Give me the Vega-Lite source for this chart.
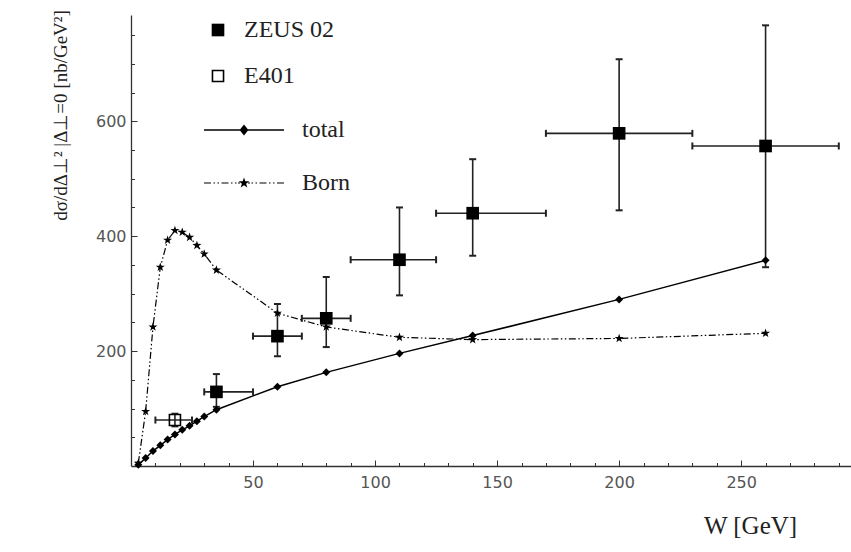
{
  "$schema": "https://vega.github.io/schema/vega-lite/v6.json",
  "width": 720,
  "height": 451,
  "autosize": {"type": "none"},
  "padding": {"left": 131, "top": 15, "right": 0, "bottom": 86},
  "background": "white",
  "config": {"view": {"stroke": null}, "axis": {"grid": false, "labelOverlap": false, "labelFlush": false}},
  "datasets": {
    "curves": [
      {"series": "total", "W": 3, "sigma": 2},
      {"series": "total", "W": 6, "sigma": 14},
      {"series": "total", "W": 9, "sigma": 26},
      {"series": "total", "W": 12, "sigma": 36},
      {"series": "total", "W": 15, "sigma": 46},
      {"series": "total", "W": 18, "sigma": 55},
      {"series": "total", "W": 21, "sigma": 63},
      {"series": "total", "W": 24, "sigma": 70},
      {"series": "total", "W": 27, "sigma": 78},
      {"series": "total", "W": 30, "sigma": 86},
      {"series": "total", "W": 35, "sigma": 98},
      {"series": "total", "W": 60, "sigma": 138},
      {"series": "total", "W": 80, "sigma": 163},
      {"series": "total", "W": 110, "sigma": 196},
      {"series": "total", "W": 140, "sigma": 227},
      {"series": "total", "W": 200, "sigma": 290},
      {"series": "total", "W": 260, "sigma": 358},
      {"series": "Born", "W": 3, "sigma": 5},
      {"series": "Born", "W": 6, "sigma": 95},
      {"series": "Born", "W": 9, "sigma": 242},
      {"series": "Born", "W": 12, "sigma": 346},
      {"series": "Born", "W": 15, "sigma": 393},
      {"series": "Born", "W": 18, "sigma": 410},
      {"series": "Born", "W": 21, "sigma": 407},
      {"series": "Born", "W": 24, "sigma": 398},
      {"series": "Born", "W": 27, "sigma": 384},
      {"series": "Born", "W": 30, "sigma": 369},
      {"series": "Born", "W": 35, "sigma": 341},
      {"series": "Born", "W": 60, "sigma": 266},
      {"series": "Born", "W": 80, "sigma": 242},
      {"series": "Born", "W": 110, "sigma": 224},
      {"series": "Born", "W": 140, "sigma": 220},
      {"series": "Born", "W": 200, "sigma": 222},
      {"series": "Born", "W": 260, "sigma": 231}
    ],
    "exp": [
      {"series": "ZEUS 02", "W": 35, "sigma": 129, "xlo": 30, "xhi": 50, "ylo": 103, "yhi": 160},
      {"series": "ZEUS 02", "W": 60, "sigma": 226, "xlo": 50, "xhi": 70, "ylo": 191, "yhi": 282},
      {"series": "ZEUS 02", "W": 80, "sigma": 257, "xlo": 70, "xhi": 90, "ylo": 207, "yhi": 329},
      {"series": "ZEUS 02", "W": 110, "sigma": 359, "xlo": 90, "xhi": 125, "ylo": 297, "yhi": 450},
      {"series": "ZEUS 02", "W": 140, "sigma": 440, "xlo": 125, "xhi": 170, "ylo": 366, "yhi": 534},
      {"series": "ZEUS 02", "W": 200, "sigma": 579, "xlo": 170, "xhi": 230, "ylo": 445, "yhi": 708},
      {"series": "ZEUS 02", "W": 260, "sigma": 557, "xlo": 230, "xhi": 290, "ylo": 346, "yhi": 767},
      {"series": "E401", "W": 18, "sigma": 80, "xlo": 10, "xhi": 25, "ylo": 69, "yhi": 91}
    ]
  },
  "layer": [
    {
      "data": {"name": "exp"},
      "mark": {"type": "rule", "color": "#222", "strokeWidth": 1.6},
      "encoding": {
        "x": {
          "field": "xlo", "type": "quantitative",
          "scale": {"domain": [0, 295], "nice": false, "zero": false},
          "axis": {
            "orient": "bottom",
            "title": "W [GeV]",
            "values": [50, 100, 150, 200, 250],
            "tickSize": -6,
            "labelPadding": 14,
            "labelOverlap": false,
            "labelFont": "DejaVu Sans", "labelFontSize": 16, "labelColor": "#555",
            "domainColor": "#333", "domainWidth": 1.3, "tickColor": "#333", "tickWidth": 1,
            "titleFont": "Liberation Serif", "titleFontSize": 25, "titleFontWeight": "normal", "titleColor": "#222",
            "titleX": 619, "titleY": 59, "titleAlign": "center", "titleBaseline": "middle"
          }
        },
        "x2": {"field": "xhi"},
        "y": {
          "field": "sigma", "type": "quantitative",
          "scale": {"domain": [0, 785], "nice": false, "zero": false},
          "axis": {
            "orient": "left",
            "title": "dσ/dΔ⊥² |Δ⊥=0  [nb/GeV²]",
            "values": [200, 400, 600],
            "tickSize": -6,
            "labelPadding": 11,
            "labelOverlap": false,
            "labelFont": "DejaVu Sans", "labelFontSize": 16, "labelColor": "#555",
            "domainColor": "#333", "domainWidth": 1.3, "tickColor": "#333", "tickWidth": 1,
            "titleFont": "Liberation Serif", "titleFontSize": 19, "titleFontWeight": "normal", "titleColor": "#222",
            "titleX": -71, "titleY": 100, "titleAngle": 270, "titleAlign": "center", "titleBaseline": "middle"
          }
        }
      }
    },
    {
      "data": {"name": "exp"},
      "mark": {"type": "rule", "color": "#222", "strokeWidth": 1.6},
      "encoding": {
        "x": {
          "field": "W", "type": "quantitative",
          "axis": {
            "orient": "bottom",
            "title": null, "labels": false, "domain": false,
            "values": [10,20,30,40,60,70,80,90,110,120,130,140,160,170,180,190,210,220,230,240,260,270,280,290],
            "tickSize": -3.5, "tickColor": "#333", "tickWidth": 1
          }
        },
        "y": {
          "field": "ylo", "type": "quantitative",
          "axis": {
            "orient": "left",
            "title": null, "labels": false, "domain": false,
            "values": [50,100,150,250,300,350,450,500,550,650,700,750],
            "tickSize": -3.5, "tickColor": "#333", "tickWidth": 1
          }
        },
        "y2": {"field": "yhi"}
      }
    },
    {
      "data": {"name": "exp"},
      "transform": [{"fold": ["xlo", "xhi"], "as": ["end", "xc"]}],
      "mark": {"type": "point", "shape": "M0,-1V1", "filled": false, "color": "#222", "strokeWidth": 2, "size": 49, "opacity": 1},
      "encoding": {
        "x": {"field": "xc", "type": "quantitative", "axis": null},
        "y": {"field": "sigma", "type": "quantitative", "axis": null}
      }
    },
    {
      "data": {"name": "exp"},
      "transform": [{"fold": ["ylo", "yhi"], "as": ["end", "yc"]}],
      "mark": {"type": "point", "shape": "M-1,0H1", "filled": false, "color": "#222", "strokeWidth": 2, "size": 49, "opacity": 1},
      "encoding": {
        "x": {"field": "W", "type": "quantitative", "axis": null},
        "y": {"field": "yc", "type": "quantitative", "axis": null}
      }
    },
    {
      "data": {"name": "curves"},
      "transform": [{"filter": "datum.series === 'total'"}],
      "mark": {"type": "line", "color": "black", "strokeWidth": 1.5},
      "encoding": {
        "x": {"field": "W", "type": "quantitative", "axis": null},
        "y": {"field": "sigma", "type": "quantitative", "axis": null}
      }
    },
    {
      "data": {"name": "curves"},
      "transform": [{"filter": "datum.series === 'Born'"}],
      "mark": {"type": "line", "color": "black", "strokeWidth": 1.2, "strokeDash": [7, 2.5, 1.5, 2.5, 1.5, 2.5]},
      "encoding": {
        "x": {"field": "W", "type": "quantitative", "axis": null},
        "y": {"field": "sigma", "type": "quantitative", "axis": null}
      }
    },
    {
      "data": {"name": "curves"},
      "transform": [{"filter": "datum.series === 'total'"}],
      "mark": {"type": "point", "shape": "diamond", "filled": true, "color": "black", "size": 64, "opacity": 1},
      "encoding": {
        "x": {"field": "W", "type": "quantitative", "axis": null},
        "y": {"field": "sigma", "type": "quantitative", "axis": null}
      }
    },
    {
      "data": {"name": "curves"},
      "transform": [{"filter": "datum.series === 'Born'"}],
      "mark": {"type": "point", "shape": "M0,-1L0.235,-0.324L0.951,-0.309L0.38,0.124L0.588,0.809L0,0.4L-0.588,0.809L-0.38,0.124L-0.951,-0.309L-0.235,-0.324Z", "filled": true, "color": "black", "size": 90, "opacity": 1},
      "encoding": {
        "x": {"field": "W", "type": "quantitative", "axis": null},
        "y": {"field": "sigma", "type": "quantitative", "axis": null}
      }
    },
    {
      "data": {"name": "exp"},
      "mark": {"type": "point", "filled": true, "color": "black", "size": 160, "opacity": 1},
      "encoding": {
        "x": {"field": "W", "type": "quantitative", "axis": null},
        "y": {"field": "sigma", "type": "quantitative", "axis": null},
        "shape": {
          "field": "series", "type": "nominal",
          "scale": {"domain": ["ZEUS 02", "E401"], "range": ["square", "M-1,-1H1V1H-1ZM-0.75,-0.75V0.75H0.75V-0.75Z"]},
          "legend": {
            "orient": "none", "legendX": 75, "legendY": 3, "title": null, "padding": 0,
            "symbolSize": 160, "symbolOpacity": 1, "symbolFillColor": "black",
            "labelFont": "Liberation Serif", "labelFontSize": 24, "labelColor": "#222", "labelOffset": 14,
            "rowPadding": 22
          }
        }
      }
    },
    {
      "data": {"name": "curves"},
      "mark": {"type": "point", "filled": true, "color": "black", "opacity": 0},
      "encoding": {
        "x": {"field": "W", "type": "quantitative", "axis": null},
        "y": {"field": "sigma", "type": "quantitative", "axis": null},
        "shape": {
          "field": "series", "type": "nominal",
          "scale": {
            "domain": ["total", "Born"],
            "range": [
              "M-1,-0.017H1V0.017H-1ZM0,-0.14L0.11,0L0,0.14L-0.11,0Z",
              "M-1,-0.015H-0.825V0.015H-1ZM-0.7625,-0.015H-0.725V0.015H-0.7625ZM-0.6625,-0.015H-0.625V0.015H-0.6625ZM-0.5625,-0.015H-0.3875V0.015H-0.5625ZM-0.325,-0.015H-0.2875V0.015H-0.325ZM-0.225,-0.015H-0.1875V0.015H-0.225ZM0.1875,-0.015H0.225V0.015H0.1875ZM0.2875,-0.015H0.325V0.015H0.2875ZM0.3875,-0.015H0.5625V0.015H0.3875ZM0.625,-0.015H0.6625V0.015H0.625ZM0.725,-0.015H0.7625V0.015H0.725ZM0.825,-0.015H1V0.015H0.825ZM-0.15,-0.015H-0.1V0.015H-0.15ZM0.1,-0.015H0.15V0.015H0.1ZM0,-0.14L0.033,-0.045L0.133,-0.043L0.053,0.017L0.082,0.113L0,0.056L-0.082,0.113L-0.053,0.017L-0.133,-0.043L-0.033,-0.045Z"
            ]
          },
          "legend": {
            "orient": "none", "legendX": 72, "legendY": 74, "title": null, "padding": 0,
            "symbolSize": 6400, "symbolOpacity": 1, "symbolFillColor": "black",
            "labelFont": "Liberation Serif", "labelFontSize": 24, "labelColor": "#222", "labelOffset": 17,
            "rowPadding": -8
          }
        }
      }
    }
  ],
  "resolve": {"scale": {"shape": "independent"}, "axis": {"x": "independent", "y": "independent"}}
}
